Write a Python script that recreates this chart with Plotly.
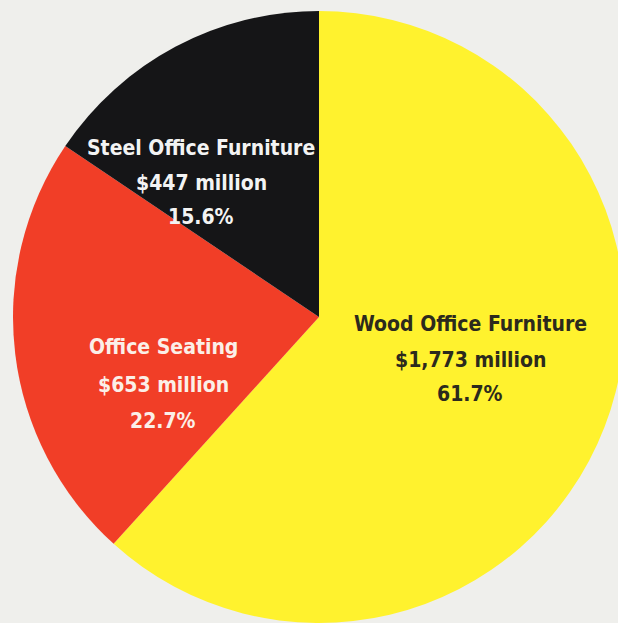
import plotly.graph_objects as go

categories = ["Wood Office Furniture", "Office Seating", "Steel Office Furniture"]
values_musd = [1773, 653, 447]
percent_labels = ["61.7%", "22.7%", "15.6%"]

colors = ["#fff22e", "#f13e27", "#151517"]
text_colors = ["#2c2a1d", "#fbefe8", "#f3f3f3"]
# label block centre x and per-line centre y (pixels in the 618x623 view)
label_x = [470, 163, 201]
label_lines_y = [(324, 360, 394), (347, 385, 421), (148, 183, 217)]

WF, HF = 640, 640          # figure is a bit larger than the 618x623 window, which crops it
BG = "#efefec"
FONT = "DejaVu Sans Condensed, Liberation Sans Narrow, Arial Narrow, sans-serif"

# circle: centre (319, 317), radius 306 in window pixels
fig = go.Figure(go.Pie(
    labels=categories,
    values=values_musd,
    sort=False,
    direction="clockwise",
    rotation=0,
    marker=dict(colors=colors, line=dict(width=0)),
    textinfo="none",
    hoverinfo="skip",
    showlegend=False,
    domain=dict(x=[13 / WF, 625 / WF], y=[1 - 623 / HF, 1 - 11 / HF]),
))

for cat, v, pct, tc, lx, lys in zip(categories, values_musd, percent_labels,
                                    text_colors, label_x, label_lines_y):
    lines = [cat, f"${v:,} million", pct]
    for line, ly in zip(lines, lys):
        fig.add_annotation(
            x=lx / WF, y=1 - ly / HF, xref="paper", yref="paper",
            text=f"<b>{line}</b>",
            showarrow=False, align="center",
            xanchor="center", yanchor="middle",
            font=dict(family=FONT, size=21, color=tc),
        )

fig.update_layout(
    width=WF, height=HF,
    margin=dict(l=0, r=0, t=0, b=0),
    paper_bgcolor=BG,
    plot_bgcolor=BG,
)

fig.write_html(
    "out.html",
    config={"displayModeBar": False},
    post_script=(
        "document.documentElement.style.background='" + BG + "';"
        "document.body.style.margin='0';"
        "document.body.style.background='" + BG + "';"
        "document.body.style.overflow='hidden';"
    ),
)
